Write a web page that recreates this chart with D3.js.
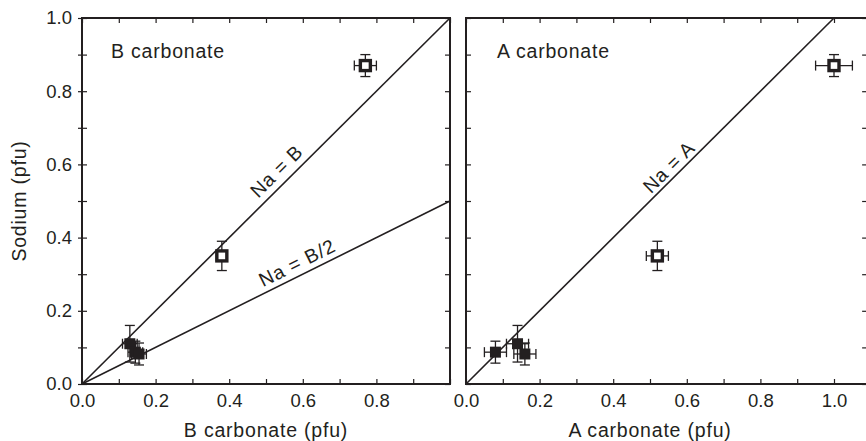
<!DOCTYPE html>
<html>
<head>
<meta charset="utf-8">
<script src="https://cdn.jsdelivr.net/npm/d3@7"></script>
<style>
  body { margin: 0; background: #fff; }
  svg { display: block; font-family: "Liberation Sans", Arial, Helvetica, sans-serif; }
  .tick text { font-size: 18.5px; fill: #231f20; }
  .tick line { stroke: #231f20; stroke-width: 1.2; }
  .title { font-size: 19.5px; letter-spacing: 0.8px; fill: #231f20; }
</style>
</head>
<body>
<svg id="chart" width="866" height="441"></svg>
<script>
// measured values (pfu), same sample order in both panels
const sodium = [0.87, 0.35, 0.11, 0.087, 0.082]
const sodiumErr = [0.03, 0.04, 0.05, 0.03, 0.03]
const bCarbonate = [0.77, 0.38, 0.13, 0.145, 0.155]
const bCarbonateErr = [0.03, 0.015, 0.02, 0.02, 0.02]
const aCarbonate = [1.0, 0.52, 0.14, 0.08, 0.16]
const aCarbonateErr = [0.05, 0.03, 0.03, 0.03, 0.03]
const openSymbol = [true, true, false, false, false]

const yTicks = [0, 0.2, 0.4, 0.6, 0.8, 1.0]
const xTicksB = [0, 0.2, 0.4, 0.6, 0.8]
const xTicksA = [0, 0.2, 0.4, 0.6, 0.8, 1.0]

const refLinesB = [{ label: 'Na = B', slope: 1 }, { label: 'Na = B/2', slope: 0.5 }]
const refLinesA = [{ label: 'Na = A', slope: 1 }]

const ink = '#231f20'
const svg = d3.select('#chart')

const yScale = d3.scaleLinear().domain([0, 1]).range([384, 18])

/**
 * Draws one panel: frame, ticks, reference lines and the points with error bars.
 */
function drawPanel (cfg) {
  const g = svg.append('g')
  const x = d3.scaleLinear().domain([0, 1]).range([cfg.left, cfg.left + 368])
  const xMax = cfg.xMax
  const minorX = d3.range(0, Math.floor(xMax * 10 + 1e-6) + 1).map(i => i / 10).filter(v => v <= xMax)
  const minorY = d3.range(0, 11).map(i => i / 10)
  const right = x(xMax)

  // inward ticks on all four sides
  g.append('g').attr('transform', `translate(0,${yScale(0)})`)
    .call(d3.axisBottom(x).tickValues(minorX).tickSize(-5).tickFormat(''))
  g.append('g').attr('transform', `translate(0,${yScale(1)})`)
    .call(d3.axisTop(x).tickValues(minorX).tickSize(-5).tickFormat(''))
  g.append('g').attr('transform', `translate(${x(0)},0)`)
    .call(d3.axisLeft(yScale).tickValues(minorY).tickSize(-5).tickFormat(''))
  g.append('g').attr('transform', `translate(${right},0)`)
    .call(d3.axisRight(yScale).tickValues(minorY).tickSize(-5).tickFormat(''))

  // labelled x axis
  g.append('g').attr('transform', `translate(0,${yScale(0)})`)
    .call(d3.axisBottom(x).tickValues(cfg.xTicks).tickSize(0).tickPadding(10).tickFormat(d3.format('.1f')))

  if (cfg.yLabels) {
    g.append('g').attr('transform', `translate(${x(0)},0)`)
      .call(d3.axisLeft(yScale).tickValues(minorY).tickSize(4).tickFormat(''))
    g.append('g').attr('transform', `translate(${x(0)},0)`)
      .call(d3.axisLeft(yScale).tickValues(yTicks).tickSize(0).tickPadding(10).tickFormat(d3.format('.1f')))
  }
  g.selectAll('.domain').remove()

  // reference lines
  cfg.lines.forEach((l, i) => {
    const xEnd = Math.min(1, 1 / l.slope)
    g.append('line')
      .attr('x1', x(0)).attr('y1', yScale(0))
      .attr('x2', x(xEnd)).attr('y2', yScale(xEnd * l.slope))
      .attr('stroke', ink).attr('stroke-width', 1.6)
    const t = cfg.labelAt[i]
    const angle = Math.atan2(yScale(l.slope) - yScale(0), x(1) - x(0)) * 180 / Math.PI
    g.append('text')
      .attr('class', 'title')
      .attr('text-anchor', 'middle')
      .attr('transform', `translate(${x(t)},${yScale(t * l.slope)}) rotate(${angle})`)
      .attr('dy', -cfg.labelOff[i])
      .text(l.label)
  })

  // error bars
  const cap = 5
  const pts = cfg.xVals.map((v, i) => ({ x: v, xe: cfg.xErr[i], y: sodium[i], ye: sodiumErr[i], open: openSymbol[i] }))
  const bars = g.append('g').attr('stroke', ink).attr('stroke-width', 1.3)
  pts.forEach(p => {
    const px = x(p.x)
    const py = yScale(p.y)
    const x0 = x(p.x - p.xe)
    const x1 = x(p.x + p.xe)
    const y0 = yScale(p.y - p.ye)
    const y1 = yScale(p.y + p.ye)
    bars.append('line').attr('x1', x0).attr('x2', x1).attr('y1', py).attr('y2', py)
    bars.append('line').attr('x1', x0).attr('x2', x0).attr('y1', py - cap).attr('y2', py + cap)
    bars.append('line').attr('x1', x1).attr('x2', x1).attr('y1', py - cap).attr('y2', py + cap)
    bars.append('line').attr('x1', px).attr('x2', px).attr('y1', y0).attr('y2', y1)
    bars.append('line').attr('x1', px - cap).attr('x2', px + cap).attr('y1', y0).attr('y2', y0)
    bars.append('line').attr('x1', px - cap).attr('x2', px + cap).attr('y1', y1).attr('y2', y1)
  })

  // symbols
  g.selectAll('rect.pt')
    .data(pts)
    .enter()
    .append('rect')
    .attr('class', 'pt')
    .attr('x', d => x(d.x) - (d.open ? 5 : 5.5))
    .attr('y', d => yScale(d.y) - (d.open ? 5 : 5.5))
    .attr('width', d => d.open ? 10 : 11)
    .attr('height', d => d.open ? 10 : 11)
    .style('fill', d => d.open ? '#fff' : ink)
    .style('stroke', ink)
    .style('stroke-width', d => d.open ? 3.4 : 0)

  // frame
  g.append('rect')
    .attr('x', x(0)).attr('y', yScale(1))
    .attr('width', right - x(0)).attr('height', yScale(0) - yScale(1))
    .attr('fill', 'none').attr('stroke', ink).attr('stroke-width', 2)

  // texts
  g.append('text').attr('class', 'title')
    .attr('x', cfg.tagX).attr('y', 58)
    .text(cfg.tag)
  g.append('text').attr('class', 'title')
    .attr('text-anchor', 'middle')
    .attr('x', x(0.5)).attr('y', 437)
    .text(cfg.xTitle)
}

drawPanel({
  left: 82,
  xMax: 1.0,
  xTicks: xTicksB,
  xVals: bCarbonate,
  xErr: bCarbonateErr,
  lines: refLinesB,
  labelAt: [0.555, 0.6],
  labelOff: [7, 6],
  yLabels: true,
  tag: 'B carbonate',
  tagX: 111,
  xTitle: 'B carbonate (pfu)'
})

drawPanel({
  left: 466,
  xMax: 1.09,
  xTicks: xTicksA,
  xVals: aCarbonate,
  xErr: aCarbonateErr,
  lines: refLinesA,
  labelAt: [0.572],
  labelOff: [4],
  yLabels: false,
  tag: 'A carbonate',
  tagX: 497,
  xTitle: 'A carbonate (pfu)'
})

svg.append('text')
  .attr('class', 'title')
  .attr('text-anchor', 'middle')
  .attr('transform', `translate(26,${(yScale(0) + yScale(1)) / 2}) rotate(-90)`)
  .text('Sodium (pfu)')
</script>
</body>
</html>
